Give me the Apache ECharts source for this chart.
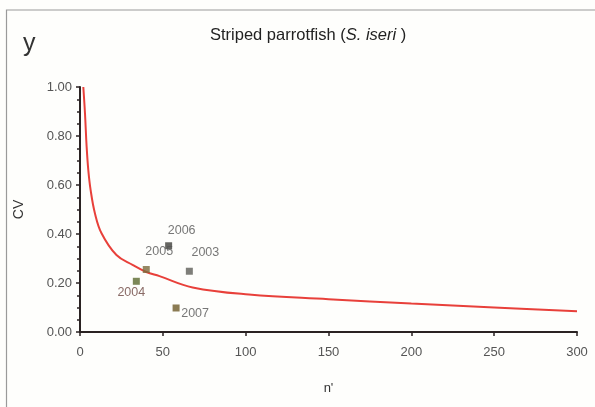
<!DOCTYPE html>
<html>
<head>
<meta charset="utf-8">
<script src="https://cdn.jsdelivr.net/npm/echarts@6/dist/echarts.min.js"></script>
<style>
html,body{margin:0;padding:0;background:#fefefc;}
#c{width:595px;height:407px;}
</style>
</head>
<body>
<div id="c"></div>
<script>
// Fitted CV curve: [n', CV]
var curveN  = [2, 3, 4, 5, 6.4, 9, 13, 22, 32, 40, 48, 68, 102, 150, 200, 250, 300];
var curveCV = [1.0, 0.894, 0.757, 0.662, 0.58, 0.485, 0.403, 0.314, 0.273, 0.245, 0.228, 0.182, 0.153, 0.134, 0.116, 0.100, 0.085];
// Yearly observations
var years   = ['2004', '2005', '2006', '2003', '2007'];
var obsN    = [34, 40, 53.5, 66, 58];
var obsCV   = [0.207, 0.255, 0.352, 0.248, 0.098];
var xTicks  = [0, 50, 100, 150, 200, 250, 300];
var yTicks  = [0.00, 0.20, 0.40, 0.60, 0.80, 1.00];

var markerColors = {'2004':'#5b6a2e','2005':'#7a6a3c','2006':'#3f3f3a','2003':'#5e5e58','2007':'#6e5a28'};
var labelOffsets = {'2004':[-5,11],'2005':[13,-18],'2006':[13,-15],'2003':[16,-19],'2007':[19,6]};
var labelColors  = {'2004':'#6b4540','2005':'#555','2006':'#555','2003':'#555','2007':'#555'};

var chart = echarts.init(document.getElementById('c'));
var font = 'Liberation Sans, Arial, sans-serif';

var curveData = curveN.map(function(n,i){return [n, curveCV[i]];});
var obsData = years.map(function(y,i){
  return {
    value:[obsN[i], obsCV[i]],
    name:y,
    itemStyle:{color:markerColors[y]},
    label:{show:true, formatter:y, position:'inside', offset:labelOffsets[y], color:labelColors[y],
           fontSize:12.5, fontFamily:font}
  };
});

chart.setOption({
  backgroundColor:'#fefefc',
  animation:false,
  graphic:[
    {type:'rect', shape:{x:6.5, y:10, width:700, height:500}, style:{fill:'none', stroke:'#9a9a9a', lineWidth:1.2}, z:-1},
    {type:'text', left:23, top:32, style:{text:'y', fontSize:25, fill:'#333', fontFamily:font}},
    {type:'text', left:210, top:27, style:{
      text:'{n|Striped parrotfish (}{i|S. iseri}{n| )}',
      rich:{n:{fontSize:16.5, fill:'#222', fontFamily:font}, i:{fontSize:16.5, fill:'#222', fontStyle:'italic', fontFamily:font}}
    }}
  ],
  grid:{left:80, right:18, top:87, bottom:75},
  xAxis:{
    type:'value', min:0, max:300, interval:50,
    name:"n'", nameLocation:'middle', nameGap:50,
    nameTextStyle:{fontSize:13, color:'#333', fontFamily:font},
    axisLine:{show:true, lineStyle:{color:'#2a2222', width:2}},
    axisTick:{show:true, length:4, lineStyle:{color:'#2a2222', width:1.5}},
    axisLabel:{fontSize:13, color:'#555', margin:14, fontFamily:font,
      formatter:function(v){return xTicks.indexOf(v)>=0 ? String(v) : '';}},
    splitLine:{show:false}
  },
  yAxis:{
    type:'value', min:0, max:1, interval:0.2,
    name:'CV', nameLocation:'middle', nameGap:54, nameRotate:90,
    nameTextStyle:{fontSize:14, color:'#333', fontFamily:font},
    axisLine:{show:true, lineStyle:{color:'#2a2222', width:2}},
    axisTick:{show:true, length:4, lineStyle:{color:'#2a2222', width:1.5}},
    minorTick:{show:true, splitNumber:4, length:3, lineStyle:{color:'#2a2222', width:1.5}},
    axisLabel:{fontSize:13, color:'#555', margin:8, fontFamily:font,
      formatter:function(v){return v.toFixed(2);}},
    splitLine:{show:false}, minorSplitLine:{show:false}
  },
  series:[
    {type:'line', data:curveData, smooth:0.4, symbol:'none',
     lineStyle:{color:'#e8403a', width:2}, z:2},
    {type:'scatter', data:obsData, symbol:'rect', symbolSize:7, z:3}
  ]
});
</script>
</body>
</html>
